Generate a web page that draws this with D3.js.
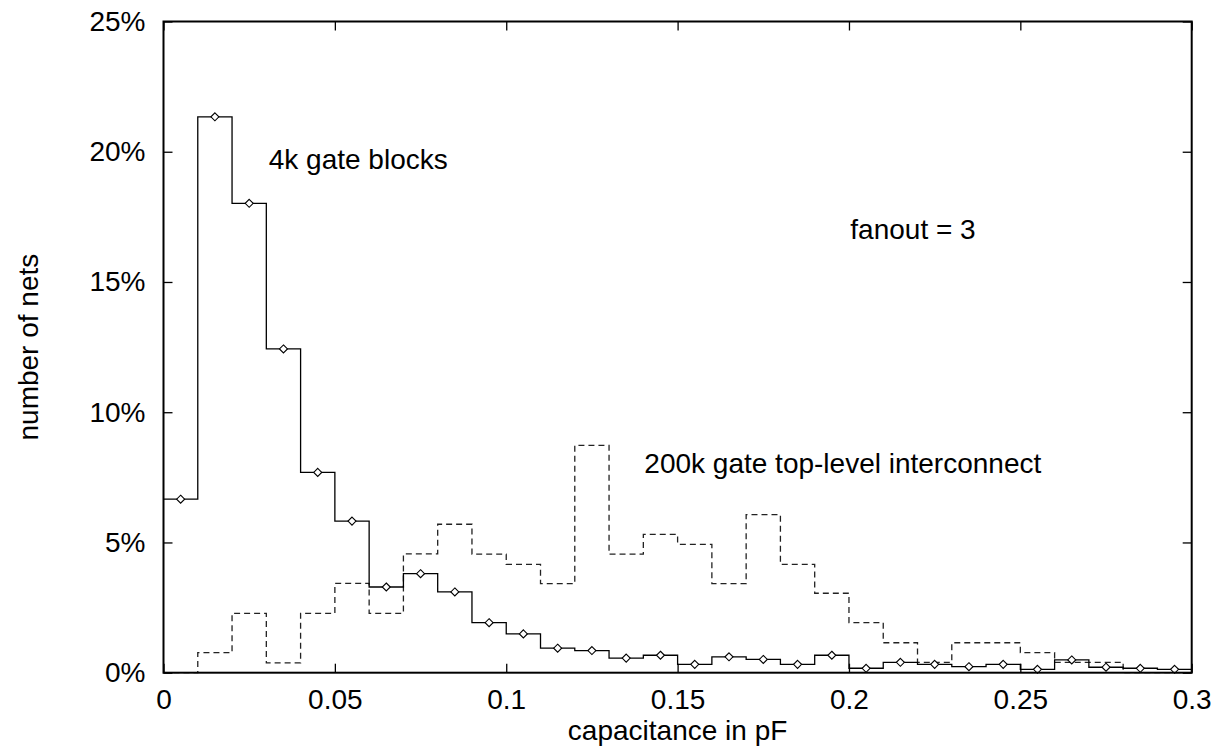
<!DOCTYPE html>
<html>
<head>
<meta charset="utf-8">
<script src="https://cdn.jsdelivr.net/npm/d3@7/dist/d3.min.js"></script>
<style>
  html, body { margin: 0; padding: 0; background: #fff; }
  svg { display: block; }
  text { font-family: "Liberation Sans", Arial, Helvetica, sans-serif; fill: #000; }
</style>
</head>
<body>
<svg id="chart" width="1220" height="749"></svg>
<script>
// ---- data (percent of nets per 0.01 pF bin) ----
const binStarts = d3.range(30).map(i => +(i * 0.01).toFixed(2));
const gateBlocks4k = [6.66, 21.34, 18.02, 12.43, 7.69, 5.82, 3.29, 3.80, 3.10, 1.92,
                      1.49, 0.94, 0.85, 0.56, 0.67, 0.32, 0.61, 0.51, 0.32, 0.67,
                      0.17, 0.40, 0.32, 0.23, 0.32, 0.13, 0.49, 0.21, 0.17, 0.13];
const topLevel200k = [0, 0.77, 2.28, 0.38, 2.28, 3.43, 2.28, 4.56, 5.70, 4.55,
                      4.16, 3.42, 8.73, 4.55, 5.31, 4.93, 3.42, 6.07, 4.16, 3.05,
                      1.92, 1.15, 0.40, 1.15, 1.15, 0.77, 0.40, 0.40, 0, 0];
const xTicks = [0, 0.05, 0.1, 0.15, 0.2, 0.25, 0.3];
const xTickLabels = ["0", "0.05", "0.1", "0.15", "0.2", "0.25", "0.3"];
const yTicks = [0, 5, 10, 15, 20, 25];
const yTickLabels = ["0%", "5%", "10%", "15%", "20%", "25%"];
const labels = [
  { text: "4k gate blocks", x: 0.0307, y: 19.35 },
  { text: "fanout = 3", x: 0.2004, y: 16.64 },
  { text: "200k gate top-level interconnect", x: 0.1403, y: 7.66 }
];

// ---- layout ----
const svg = d3.select("#chart");
const L = 163.5, R = 1191.7, T = 21.5, B = 672.7;
const xScale = d3.scaleLinear().domain([0, 0.3]).range([L, R]);
const yScale = d3.scaleLinear().domain([0, 25]).range([B, T]);
const binW = 0.01;

function stepPts(vals) {
  const pts = vals.map((v, i) => [binStarts[i], v]);
  pts.push([binStarts[vals.length - 1] + binW, vals[vals.length - 1]]);
  return pts;
}
const stepLine = d3.line().x(d => xScale(d[0])).y(d => yScale(d[1])).curve(d3.curveStepAfter);

svg.append("path")
  .attr("d", stepLine(stepPts(topLevel200k)))
  .attr("fill", "none").attr("stroke", "#222").attr("stroke-width", 1.3)
  .attr("stroke-dasharray", "6,4");

svg.append("path")
  .attr("d", stepLine(stepPts(gateBlocks4k)))
  .attr("fill", "none").attr("stroke", "#000").attr("stroke-width", 1.3);

// diamond markers
const ds = 4;
svg.append("g").selectAll("path")
  .data(gateBlocks4k)
  .join("path")
  .attr("d", (v, i) => {
    const cx = xScale(binStarts[i] + binW / 2), cy = yScale(v);
    return `M${cx},${cy - ds}L${cx + ds},${cy}L${cx},${cy + ds}L${cx - ds},${cy}Z`;
  })
  .attr("fill", "#fff").attr("stroke", "#000").attr("stroke-width", 1.1);

// axes (ticks inward, mirrored)
const tk = 9;
const axB = d3.axisBottom(xScale).tickValues(xTicks).tickSizeInner(-tk).tickSizeOuter(0)
  .tickFormat((d, i) => xTickLabels[i]).tickPadding(16);
const gB = svg.append("g").attr("transform", `translate(0,${B})`).call(axB);
const axT = d3.axisTop(xScale).tickValues(xTicks).tickSizeInner(-tk).tickSizeOuter(0).tickFormat("");
const gT = svg.append("g").attr("transform", `translate(0,${T})`).call(axT);
const axL = d3.axisLeft(yScale).tickValues(yTicks).tickSizeInner(-tk).tickSizeOuter(0)
  .tickFormat((d, i) => yTickLabels[i]).tickPadding(18);
const gL = svg.append("g").attr("transform", `translate(${L},0)`).call(axL);
const axR = d3.axisRight(yScale).tickValues(yTicks).tickSizeInner(-tk).tickSizeOuter(0).tickFormat("");
const gR = svg.append("g").attr("transform", `translate(${R},0)`).call(axR);

[gB, gT, gL, gR].forEach(g => {
  g.select(".domain").remove();
  g.selectAll(".tick line").attr("stroke", "#000").attr("stroke-width", 1.3);
  g.selectAll("text").attr("font-size", 28).attr("font-family", "Liberation Sans, Arial, sans-serif").attr("fill", "#000");
});

// frame
svg.append("rect")
  .attr("x", L).attr("y", T).attr("width", R - L).attr("height", B - T)
  .attr("fill", "none").attr("stroke", "#000").attr("stroke-width", 2);

// axis titles
svg.append("text")
  .attr("x", (L + R) / 2).attr("y", 740)
  .attr("text-anchor", "middle").attr("font-size", 28)
  .text("capacitance in pF");
svg.append("text")
  .attr("transform", `translate(38,${(T + B) / 2}) rotate(-90)`)
  .attr("text-anchor", "middle").attr("font-size", 28)
  .text("number of nets");

// annotations
svg.append("g").selectAll("text")
  .data(labels)
  .join("text")
  .attr("x", d => xScale(d.x)).attr("y", d => yScale(d.y))
  .attr("font-size", 28)
  .text(d => d.text);
</script>
</body>
</html>
